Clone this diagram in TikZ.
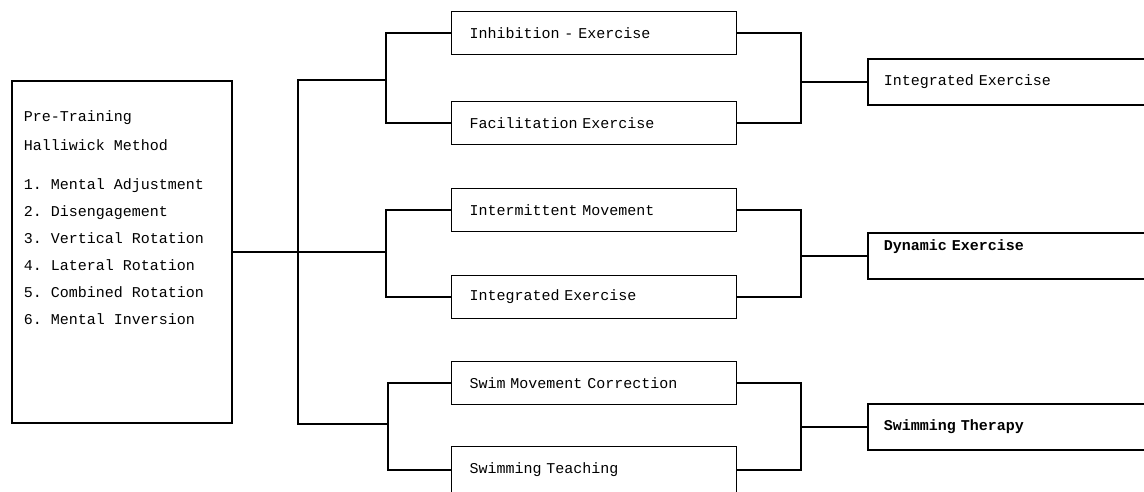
\documentclass[tikz,border=0pt]{standalone}
\usepackage{fontspec}
\setmonofont{Liberation Mono}
\begin{document}
\begin{tikzpicture}[x=1pt,y=-1pt,line width=1.5pt]
  \tikzset{PB/.style={draw, rectangle, minimum width=220pt, minimum height=342pt}}
  \tikzset{PT/.style={anchor=north west, align=left, inner sep=0pt, font=\ttfamily\fontsize{15}{27}\selectfont}}
  \tikzset{MB/.style={draw, rectangle, minimum width=285pt, minimum height=43pt, text width=249pt, inner xsep=18pt, align=left, font=\ttfamily\fontsize{15}{18}\selectfont}}
  \tikzset{RB/.style={draw, rectangle, anchor=west, minimum width=320pt, minimum height=46pt, text width=288pt, inner xsep=16pt, align=left, font=\ttfamily\fontsize{15}{18}\selectfont}}
  \tikzset{BD/.style={font=\ttfamily\bfseries\fontsize{15}{18}\selectfont}}
  \useasboundingbox (0,0) rectangle (1144,491);
  \clip (0,0) rectangle (1144,491);

  \node [PB] (pre) at (122,252) {};
  \node [PT] (prelist) at (23,110) {Pre-Training\\[2pt]
    Halliwick Method\\[12pt]
    1. Mental Adjustment\\
    2. Disengagement\\
    3. Vertical Rotation\\
    4. Lateral Rotation\\
    5. Combined Rotation\\
    6. Mental Inversion};

  \node [MB] (m1) at (594,33)  {Inhibition - Exercise};
  \node [MB] (m2) at (594,123) {Facilitation Exercise};
  \node [MB] (m3) at (594,210) {Intermittent Movement};
  \node [MB] (m4) at (594,297) {Integrated Exercise};
  \node [MB] (m5) at (594,383) {Swim Movement Correction};
  \node [MB,minimum height=47pt] (m6) at (594,470) {Swimming Teaching};

  \node [RB]                    (r1) at (867,82)  {Integrated Exercise};
  \node [RB,BD,text depth=22pt] (r2) at (867,256) {Dynamic Exercise};
  \node [RB,BD]                 (r3) at (867,427) {Swimming Therapy};

  \coordinate (t1) at (298,80);
  \coordinate (t3) at (298,424);
  \coordinate (b1) at (386,80);
  \coordinate (b2) at (386,252);
  \coordinate (b3) at (388,424);
  \coordinate (c1) at (801,82);
  \coordinate (c2) at (801,256);
  \coordinate (c3) at (801,427);

  \draw (b1) -- (t1) -- (t3) -- (b3);
  \draw (pre.east) -- (b2);
  \foreach \up/\down/\bp in {m1/m2/b1,m3/m4/b2,m5/m6/b3}
    \draw (\up.west) -| (\bp) |- (\down.west);
  \foreach \up/\down/\bp/\to in {m1/m2/c1/r1,m3/m4/c2/r2,m5/m6/c3/r3}
    \draw (\up.east) -| (\bp) |- (\down.east) (\bp) -- (\to.west);
\end{tikzpicture}
\end{document}
